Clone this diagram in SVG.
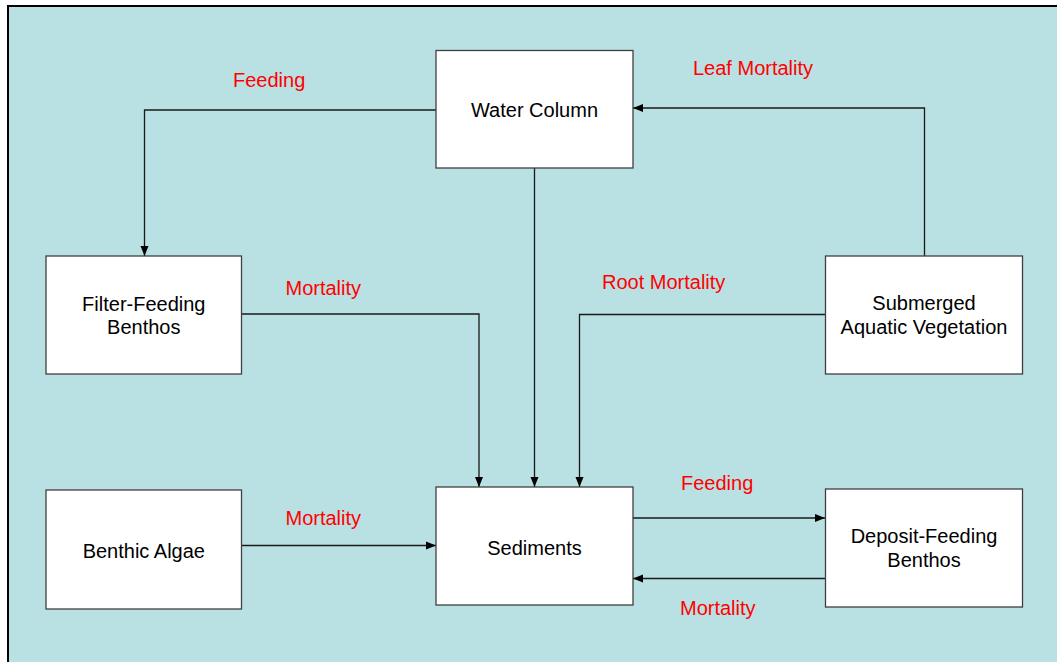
<svg xmlns="http://www.w3.org/2000/svg" width="1057" height="662" viewBox="0 0 1057 662">
<style>
.node rect{fill:#ffffff;stroke:#404040;stroke-width:1.3}
.node text{font-family:"Liberation Sans",Arial,sans-serif;font-size:20px;fill:#000;text-anchor:middle}
.lbl{font-family:"Liberation Sans",Arial,sans-serif;font-size:20px;fill:#ff0000}
.conn path{fill:none;stroke:#1a1a1a;stroke-width:1.3}
</style>
<defs>
<marker id="ah" markerUnits="userSpaceOnUse" markerWidth="10" markerHeight="10" viewBox="0 0 10 10" refX="10" refY="5" orient="auto">
<path d="M0,1 L10,5 L0,9 Z" fill="#000"/>
</marker>
</defs>
<rect x="0" y="0" width="1057" height="662" fill="#ffffff"/>
<rect x="8" y="6" width="1060" height="670" fill="#b9e0e3" stroke="#000" stroke-width="2"/>

<g id="connectors" class="conn">
<path d="M436,110 H144.5 V256" marker-end="url(#ah)"/>
<path d="M924.5,256 V108 H633" marker-end="url(#ah)"/>
<path d="M534.5,168 V487" marker-end="url(#ah)"/>
<path d="M241,314 H479 V487" marker-end="url(#ah)"/>
<path d="M825,314.5 H579.5 V487" marker-end="url(#ah)"/>
<path d="M241,545.5 H436" marker-end="url(#ah)"/>
<path d="M633,518 H825" marker-end="url(#ah)"/>
<path d="M825,578.5 H633" marker-end="url(#ah)"/>
</g>

<g id="labels">
<text class="lbl" x="233" y="87">Feeding</text>
<text class="lbl" x="693" y="75">Leaf Mortality</text>
<text class="lbl" x="285.5" y="295">Mortality</text>
<text class="lbl" x="602" y="289">Root Mortality</text>
<text class="lbl" x="285.5" y="524.5">Mortality</text>
<text class="lbl" x="681" y="489.5">Feeding</text>
<text class="lbl" x="680" y="615">Mortality</text>
</g>

<g id="water-column" class="node">
<rect x="436" y="50.5" width="197" height="117.5"/>
<text x="534.5" y="116.5">Water Column</text>
</g>
<g id="filter-feeding-benthos" class="node">
<rect x="46" y="256" width="195.5" height="118"/>
<text x="143.8" y="311">Filter-Feeding</text>
<text x="143.8" y="334">Benthos</text>
</g>
<g id="submerged-aquatic-vegetation" class="node">
<rect x="825.5" y="256" width="197" height="118"/>
<text x="924" y="310">Submerged</text>
<text x="924" y="334">Aquatic Vegetation</text>
</g>
<g id="benthic-algae" class="node">
<rect x="46" y="490" width="195.5" height="119"/>
<text x="143.8" y="557.5">Benthic Algae</text>
</g>
<g id="sediments" class="node">
<rect x="436" y="487" width="197" height="118"/>
<text x="534.5" y="554.5">Sediments</text>
</g>
<g id="deposit-feeding-benthos" class="node">
<rect x="825.5" y="489" width="197" height="118"/>
<text x="924" y="543">Deposit-Feeding</text>
<text x="924" y="567">Benthos</text>
</g>
</svg>
